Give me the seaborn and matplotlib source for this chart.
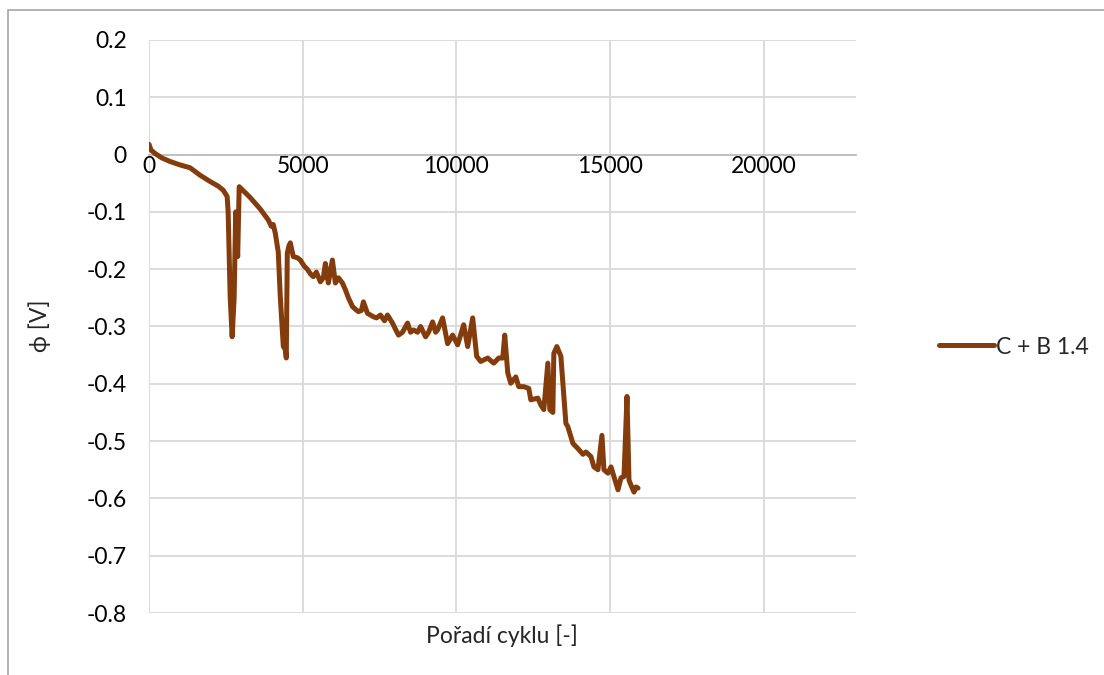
import numpy as np
import matplotlib
matplotlib.use("Agg")
import matplotlib.pyplot as plt
import seaborn as sns
import pandas as pd
from matplotlib.patches import Rectangle

# cycle number and potential
cycle = [0, 65, 196, 424, 684, 1010, 1337, 1663, 1989, 2250, 2412, 2542, 2575, 2640, 2705,
         2770, 2820, 2885, 2934, 3293, 3619, 3880, 3977, 4042, 4108, 4205, 4271, 4369, 4434,
         4466, 4499, 4548, 4597, 4694, 4825, 4923, 5053, 5151, 5249, 5346, 5444, 5575, 5672,
         5737, 5835, 5966, 6063, 6161, 6292, 6390, 6487, 6618, 6716, 6813, 6911, 6976, 7107,
         7204, 7302, 7400, 7530, 7661, 7759, 7922, 8020, 8117, 8248, 8411, 8509, 8606, 8737,
         8835, 8998, 9095, 9226, 9324, 9389, 9552, 9714, 9877, 10041, 10236, 10367, 10530,
         10660, 10791, 11019, 11214, 11377, 11508, 11573, 11671, 11769, 11932, 12029, 12192,
         12355, 12421, 12649, 12747, 12844, 12975, 13040, 13138, 13170, 13268, 13399, 13562,
         13627, 13790, 13953, 14116, 14214, 14377, 14474, 14605, 14735, 14800, 14931, 15029,
         15126, 15257, 15355, 15452, 15550, 15615, 15681, 15778, 15844, 15909]
phi = [0.018, 0.008, 0.002, -0.006, -0.012, -0.018, -0.023, -0.036, -0.047, -0.055, -0.062,
       -0.073, -0.10, -0.248, -0.318, -0.25, -0.10, -0.178, -0.056, -0.075, -0.095, -0.114,
       -0.125, -0.122, -0.137, -0.17, -0.248, -0.335, -0.34, -0.355, -0.172, -0.16, -0.154,
       -0.178, -0.18, -0.184, -0.195, -0.20, -0.208, -0.213, -0.205, -0.222, -0.215, -0.19,
       -0.224, -0.184, -0.224, -0.215, -0.224, -0.236, -0.25, -0.265, -0.27, -0.274, -0.272,
       -0.257, -0.277, -0.28, -0.283, -0.285, -0.28, -0.29, -0.28, -0.294, -0.305, -0.315,
       -0.31, -0.294, -0.31, -0.306, -0.31, -0.30, -0.318, -0.31, -0.292, -0.31, -0.306,
       -0.285, -0.33, -0.315, -0.332, -0.297, -0.335, -0.285, -0.352, -0.361, -0.355, -0.364,
       -0.355, -0.355, -0.315, -0.381, -0.399, -0.388, -0.405, -0.405, -0.408, -0.428, -0.425,
       -0.437, -0.445, -0.364, -0.445, -0.45, -0.347, -0.335, -0.352, -0.469, -0.475, -0.504,
       -0.513, -0.523, -0.519, -0.527, -0.545, -0.55, -0.49, -0.55, -0.556, -0.545, -0.562,
       -0.585, -0.564, -0.562, -0.422, -0.568, -0.577, -0.589, -0.58, -0.582]
series_name = "C + B 1.4"
xticks = [0, 5000, 10000, 15000, 20000]
yticks = [0.2, 0.1, 0, -0.1, -0.2, -0.3, -0.4, -0.5, -0.6, -0.7, -0.8]

sns.set_style("white")
plt.rcParams['font.family'] = ['Lato', 'DejaVu Sans']
fs = 16.5

df = pd.DataFrame({"cycle": cycle, "phi": phi, "serie": series_name})

fig = plt.figure(figsize=(11.04, 6.75), dpi=100)
ax = fig.add_axes([149/1104, 1-613/675, (856-149)/1104, (613-40)/675])

# outer chart border
fig.patches.append(Rectangle((8/1104, -0.01), 1.1, 1-10/675+0.01, transform=fig.transFigure,
                             fill=False, edgecolor='#a6a6a6', linewidth=1.2))

sns.lineplot(data=df, x="cycle", y="phi", hue="serie", palette=["#843C0C"], ax=ax,
             linewidth=3.6, sort=False, legend=False, zorder=3)

ax.set_xlim(0, 23000)
ax.set_ylim(-0.8, 0.2)
ax.set_xticks(xticks)
ax.set_yticks(yticks)
ax.set_yticklabels([f"{v:g}" for v in yticks])
ax.grid(True, color='#d9d9d9', linewidth=1.3)
for s in ['top', 'right', 'left']:
    ax.spines[s].set_visible(False)
ax.spines['bottom'].set_position(('data', 0))
ax.spines['bottom'].set_color('#bfbfbf')
ax.spines['bottom'].set_linewidth(1.3)
ax.tick_params(axis='both', length=0, labelsize=fs, colors='black')
ax.tick_params(axis='x', pad=1)
ax.tick_params(axis='y', pad=16)
ax.set_xlabel("")
ax.set_ylabel("")

fig.text(502/1104, 1-636/675, "Pořadí cyklu [-]", ha='center', va='center', fontsize=fs)
fig.text(40/1104, 1-326/675, "ϕ [V]", ha='center', va='center', fontsize=fs, rotation=90)

handle = plt.Line2D([], [], color="#843C0C", linewidth=3.6, solid_capstyle='round')
fig.legend([handle], [series_name], loc='center left', bbox_to_anchor=(918/1104, 1-347/675),
           frameon=False, fontsize=fs, handlelength=2.4, handletextpad=0.1)

fig.savefig("out.png", dpi=100)
